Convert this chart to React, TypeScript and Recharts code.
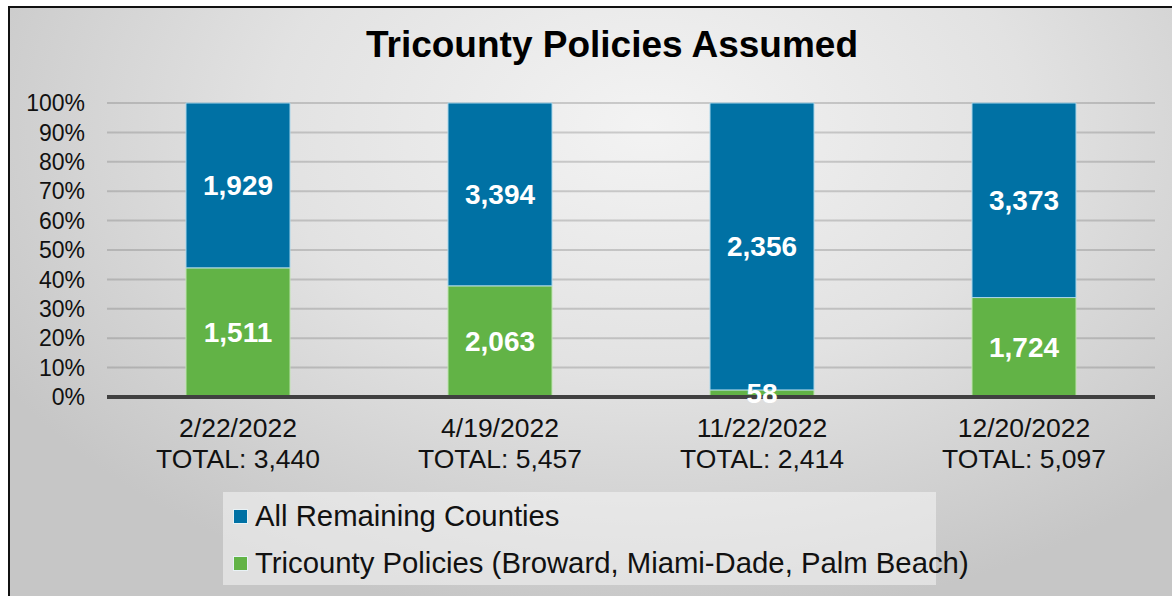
import { BarChart, Bar, XAxis, YAxis, CartesianGrid, Legend, LabelList } from 'recharts';

const dates = ['2/22/2022', '4/19/2022', '11/22/2022', '12/20/2022'];
const tricounty = [1511, 2063, 58, 1724];
const remaining = [1929, 3394, 2356, 3373];
const yTicks = [0, 0.1, 0.2, 0.3, 0.4, 0.5, 0.6, 0.7, 0.8, 0.9, 1];

const series = [
  { key: 'rem', name: 'All Remaining Counties', color: '#0071A4' },
  { key: 'tri', name: 'Tricounty Policies (Broward, Miami-Dade, Palm Beach)', color: '#62B346' },
];

const data = dates.map((date, i) => ({
  date,
  tri: tricounty[i],
  rem: remaining[i],
  total: tricounty[i] + remaining[i],
}));

const FONT = '"Liberation Sans", Arial, sans-serif';
const fmt = (v: number) => new Intl.NumberFormat('en-US').format(v);

const DateTick = (props: any) => {
  const { x, y, payload, index } = props;
  return (
    <text x={x} y={y} textAnchor="middle" fontFamily={FONT} fontSize={26.5} fill="#111">
      <tspan x={x} y={y + 40}>{payload.value}</tspan>
      <tspan x={x} y={y + 71}>TOTAL: {fmt(data[index].total)}</tspan>
    </text>
  );
};

const LegendBox = () => (
  <div style={{ width: '100%', height: '100%', background: 'rgba(245,245,245,0.55)', fontFamily: FONT, fontSize: 29.3, color: '#111' }}>
    {series.map((s, i) => (
      <div key={s.key} style={{ position: 'absolute', left: 10, top: 8 + i * 47, height: 32, display: 'flex', alignItems: 'center', whiteSpace: 'nowrap' }}>
        <span style={{ display: 'inline-block', width: 13, height: 13, background: s.color, border: '1px solid #e8f2f6', marginRight: 7 }} />
        <span>{s.name}</span>
      </div>
    ))}
  </div>
);

const App = () => {
  return (
    <div
      style={{
        position: 'absolute',
        left: 8,
        top: 6,
        width: 1164,
        height: 590,
        boxSizing: 'border-box',
        borderTop: '2px solid #111',
        borderLeft: '2px solid #111',
        overflow: 'hidden',
        background: 'radial-gradient(ellipse 65% 85% at 55% 20%, #f3f3f3 0%, #e2e2e2 50%, #c6c6c6 100%)',
      }}
    >
      <div style={{ position: 'absolute', left: -10, top: -8, width: 1172, height: 596 }}>
        <div
          style={{
            position: 'absolute',
            left: 312,
            width: 600,
            top: 26,
            textAlign: 'center',
            fontFamily: FONT,
            fontWeight: 'bold',
            fontSize: 37,
            lineHeight: '37px',
            color: '#000',
          }}
        >
          Tricounty Policies Assumed
        </div>
        <BarChart
          width={1172}
          height={596}
          data={data}
          stackOffset="expand"
          margin={{ top: 103, right: 17, left: 0, bottom: 169 }}
        >
          <CartesianGrid vertical={false} stroke="rgba(110,110,110,0.3)" strokeWidth={2} />
          <YAxis
            width={107}
            domain={[0, 1]}
            ticks={yTicks}
            interval={0}
            tickFormatter={(v) => `${Math.round(v * 100)}%`}
            axisLine={false}
            tickLine={false}
            tickSize={0}
            tickMargin={22}
            tick={{ fontFamily: FONT, fontSize: 23, fill: '#111' }}
          />
          <XAxis
            dataKey="date"
            height={30}
            axisLine={{ stroke: '#404040', strokeWidth: 4 }}
            tickLine={false}
            tickSize={0}
            tickMargin={0}
            tick={<DateTick />}
            interval={0}
          />
          <Legend
            layout="vertical"
            align="center"
            verticalAlign="middle"
            wrapperStyle={{ left: 223, top: 492, width: 713, height: 93 }}
            content={<LegendBox />}
          />
          <Bar dataKey="tri" name={series[1].name} stackId="a" fill={series[1].color} stroke="#bfe3b0" strokeWidth={1} barSize={104} isAnimationActive={false}>
            <LabelList dataKey="tri" position="center" formatter={(v: any) => fmt(v)} fill="#fff" fontFamily={FONT} fontWeight="bold" fontSize={28} />
          </Bar>
          <Bar dataKey="rem" name={series[0].name} stackId="a" fill={series[0].color} stroke="#a9d6ea" strokeWidth={1} barSize={104} isAnimationActive={false}>
            <LabelList dataKey="rem" position="center" formatter={(v: any) => fmt(v)} fill="#fff" fontFamily={FONT} fontWeight="bold" fontSize={28} />
          </Bar>
        </BarChart>
      </div>
    </div>
  );
};

export default App;
